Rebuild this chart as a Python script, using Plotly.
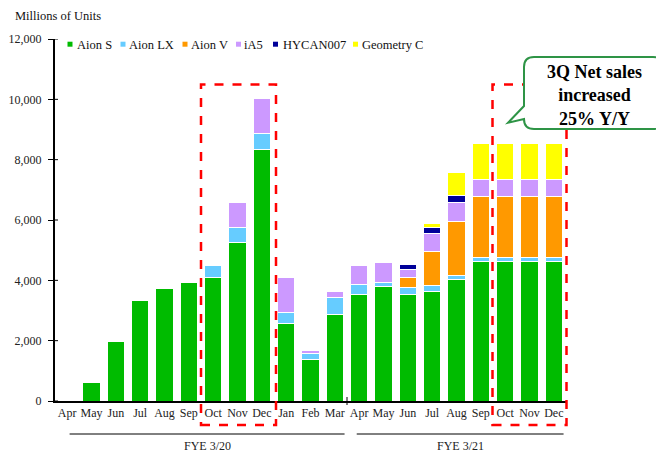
import plotly.graph_objects as go

# ---------------- data ----------------
months = ["Apr", "May", "Jun", "Jul", "Aug", "Sep", "Oct", "Nov", "Dec", "Jan", "Feb", "Mar",
          "Apr", "May", "Jun", "Jul", "Aug", "Sep", "Oct", "Nov", "Dec"]
aion_s = [None, 630, 1956, 3328, 3735, 3924, 4110, 5270, 8353, 2570, 1372, 2884,
          3527, 3812, 3547, 3626, 4044, 4640, 4640, 4640, 4640]
aion_lx = [None, None, None, None, None, None, 378, 497, 510, 355, 199, 563,
           331, 122, 212, 219, 111, 133, 133, 133, 133]
aion_v = [None, None, None, None, None, None, None, None, None, None, None, None,
          None, None, 351, 1106, 1779, 2015, 2015, 2015, 2015]
ia5 = [None, None, None, None, None, None, None, 829, 1180, 1180, 99, 179,
       640, 663, 255, 597, 652, 554, 550, 550, 550]
hycan = [None, None, None, None, None, None, None, None, None, None, None, None,
         None, None, 166, 209, 242, None, None, None, None]
geometry = [None, None, None, None, None, None, None, None, None, None, None, None,
            None, None, None, 133, 752, 1200, 1195, 1195, 1195]
series_names = ["Aion S", "Aion LX", "Aion V", "iA5", "HYCAN007", "Geometry C"]
series_values = [aion_s, aion_lx, aion_v, ia5, hycan, geometry]
series_colors = ["#00BB00", "#66CCFF", "#FF9900", "#CC99FF", "#000099", "#FFFF00"]
fiscal_years = ["FYE 3/20", "FYE 3/21"]
y_ticks = [0, 2000, 4000, 6000, 8000, 10000, 12000]

FONT = "'Liberation Serif', 'Times New Roman', serif"

# ---------------- layout geometry (pixels of the 664x454 window) ----------------
OFF = 8                      # default page body margin
W, H = 664 - OFF, 454 - OFF  # figure size
PL, PR, PT, PB = 55, 566, 39, 401   # plot area in window pixels
L, T = PL - OFF, PT - OFF
R, B = W - (PR - OFF), H - (PB - OFF)
PW, PH = PR - PL, PB - PT


def px(x, y):
    """window pixel -> paper coordinates"""
    return (x - PL) / PW, (PB - y) / PH


x_idx = list(range(len(months)))

fig = go.Figure()
for name, vals, col in zip(series_names, series_values, series_colors):
    fig.add_trace(go.Bar(
        x=x_idx, y=vals, name=name, marker=dict(color=col, line=dict(color="white", width=1)),
        showlegend=False,
    ))

shapes = []
annotations = []

# legend (manual, to match compact style)
legend_sq = [67.5, 120.5, 182.5, 236, 273, 353]
legend_tx = [75, 127, 189, 242, 280.5, 359.5]
for name, col, sx, tx in zip(series_names, series_colors, legend_sq, legend_tx):
    x0, y0 = px(sx, 46.7)
    x1, y1 = px(sx + 5, 41.7)
    shapes.append(dict(type="rect", xref="paper", yref="paper", x0=x0, y0=y0, x1=x1, y1=y1,
                       fillcolor=col, line=dict(width=0)))
    ax, ay = px(tx, 44.5)
    annotations.append(dict(text=name, xref="paper", yref="paper", x=ax, y=ay,
                            xanchor="left", yanchor="middle", showarrow=False,
                            font=dict(family=FONT, size=12.5, color="#111")))

# axis title
ax, ay = px(14, 15.5)
annotations.append(dict(text="Millions of Units", xref="paper", yref="paper", x=ax, y=ay,
                        xanchor="left", yanchor="middle", showarrow=False, borderpad=0,
                        font=dict(family=FONT, size=12.5, color="#111")))

# fiscal year group lines and labels
groups = [(0.1, 11.4), (11.9, 20.4)]
_, gy = px(0, 434)
_, gty = px(0, 446)
for (g0, g1), label in zip(groups, fiscal_years):
    shapes.append(dict(type="line", xref="x", yref="paper", x0=g0, x1=g1, y0=gy, y1=gy,
                       line=dict(color="black", width=1)))
    annotations.append(dict(text=label, xref="x", yref="paper", x=(g0 + g1) / 2, y=gty,
                            xanchor="center", yanchor="middle", showarrow=False,
                            font=dict(family=FONT, size=12, color="#222")))

# tick at fiscal year boundary
_, t0 = px(0, 397)
_, t1 = px(0, 405)
shapes.append(dict(type="line", xref="x", yref="paper", x0=11.5, x1=11.5, y0=t0, y1=t1,
                   line=dict(color="black", width=1)))

# inner halves of the y ticks (ticks cross the axis line)
for v in y_ticks:
    shapes.append(dict(type="line", xref="paper", yref="y", x0=0, x1=3 / PW, y0=v, y1=v,
                       line=dict(color="black", width=1)))

# red dashed highlight boxes
for (bx0, bx1) in [(201, 276), (492.5, 566.5)]:
    x0, y0 = px(bx0, 425)
    x1, y1 = px(bx1, 84.5)
    shapes.append(dict(type="rect", xref="paper", yref="paper", x0=x0, y0=y0, x1=x1, y1=y1,
                       line=dict(color="#FF0000", width=2.5, dash="dash"), fillcolor="rgba(0,0,0,0)"))

# callout bubble
pts = [("M", (534, 57)), ("L", (653, 57)), ("Q", (663, 57), (663, 67)), ("L", (663, 119)),
       ("Q", (663, 129), (653, 129)), ("L", (534, 129)), ("Q", (524, 129), (524, 119)),
       ("L", (508, 122.7)), ("L", (524, 106)), ("L", (524, 67)), ("Q", (524, 57), (534, 57))]
path = ""
for item in pts:
    cmd = item[0]
    coords = []
    for p in item[1:]:
        a, b = px(*p)
        coords.append(f"{a:.5f},{b:.5f}")
    path += cmd + " ".join(coords) + " "
path += "Z"
shapes.append(dict(type="path", xref="paper", yref="paper", path=path,
                   line=dict(color="#2E9446", width=2), fillcolor="white"))
ax, ay = px(594, 95)
annotations.append(dict(text="<b>3Q Net sales<br>increased<br>25% Y/Y</b>", xref="paper", yref="paper",
                        x=ax, y=ay, xanchor="center", yanchor="middle", showarrow=False,
                        font=dict(family=FONT, size=18, color="black")))

fig.update_layout(
    template="none",
    width=W, height=H, autosize=False,
    margin=dict(l=L, r=R, t=T, b=B, pad=0, autoexpand=False),
    barmode="stack", bargap=0.29,
    plot_bgcolor="white", paper_bgcolor="white",
    font=dict(family=FONT, size=12, color="#222"),
    shapes=shapes, annotations=annotations,
    xaxis=dict(tickmode="array", tickvals=x_idx, ticktext=months, range=[-0.5, len(months) - 0.5],
               showline=True, linecolor="black", linewidth=2, ticks="", showgrid=False,
               zeroline=False, automargin=False,
               tickfont=dict(family=FONT, size=12, color="#222"), fixedrange=True),
    yaxis=dict(range=[0, 12000], tickmode="array", tickvals=y_ticks, tickformat=",",
               showline=True, linecolor="black", linewidth=2, ticks="outside", ticklen=5,
               tickcolor="black", tickwidth=1, showgrid=False, zeroline=False,
               ticklabelstandoff=4, automargin=False,
               tickfont=dict(family=FONT, size=12, color="#222"), fixedrange=True),
)

fig.write_html("out.html")
